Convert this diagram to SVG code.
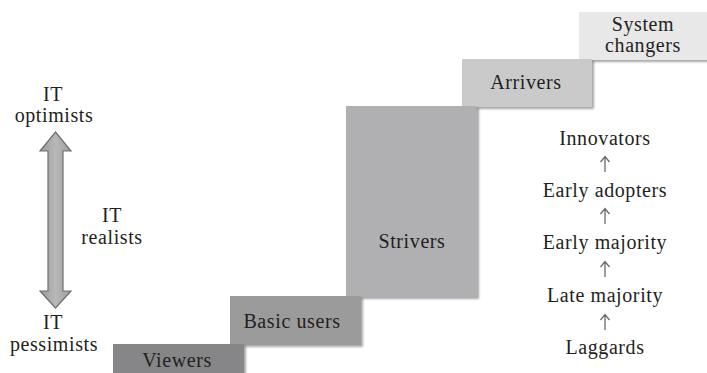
<svg xmlns="http://www.w3.org/2000/svg" width="707" height="373" viewBox="0 0 707 373">
<defs>
<style>
text{font-family:'Liberation Serif',serif !important;font-size:20px;fill:#231f20;text-anchor:middle;letter-spacing:0.6px}
.box{filter:url(#sh)}
.up{stroke:#6a6a6a;stroke-width:1.3;fill:none}
</style>
<filter id="sh" x="-5%" y="-5%" width="115%" height="115%">
<feGaussianBlur in="SourceAlpha" stdDeviation="1.2"/>
<feOffset dx="1.5" dy="1.5" result="b"/>
<feComponentTransfer><feFuncA type="linear" slope="0.35"/></feComponentTransfer>
<feMerge><feMergeNode/><feMergeNode in="SourceGraphic"/></feMerge>
</filter>
<linearGradient id="ag" x1="0" y1="0" x2="1" y2="0">
<stop offset="0" stop-color="#9a9a9a"/>
<stop offset="0.5" stop-color="#b8b8b8"/>
<stop offset="1" stop-color="#9e9e9e"/>
</linearGradient>
</defs>
<g id="system-changers"><rect class="box" x="579" y="12" width="130" height="48" fill="#e8e8e9"/><text x="643" y="31" font-family="Liberation Serif" style="font-family:'Liberation Serif'">System</text><text x="643" y="52" font-family="Liberation Serif" style="font-family:'Liberation Serif'">changers</text></g>
<g id="arrivers"><rect class="box" x="462" y="59" width="130" height="48" fill="#cacacb"/><text x="526" y="89" font-family="Liberation Serif" style="font-family:'Liberation Serif'">Arrivers</text></g>
<g id="strivers"><rect class="box" x="346" y="106" width="131" height="191" fill="#b0b0b2"/><text x="412" y="248" font-family="Liberation Serif" style="font-family:'Liberation Serif'">Strivers</text></g>
<g id="basic-users"><rect class="box" x="230" y="296" width="131" height="49" fill="#9b9b9c"/><text x="292" y="328" font-family="Liberation Serif" style="font-family:'Liberation Serif'">Basic users</text></g>
<g id="viewers"><rect class="box" x="113" y="344" width="131" height="35" fill="#868688"/><text x="177" y="367" font-family="Liberation Serif" style="font-family:'Liberation Serif'">Viewers</text></g>
<g id="it-axis">
<polygon points="55.5,132 71,151 63,151 63,291 71,291 55.5,308 40,291 48,291 48,151 40,151" fill="url(#ag)" stroke="#707070" stroke-width="1.2"/>
<text x="53" y="101" font-family="Liberation Serif" style="font-family:'Liberation Serif'">IT</text><text x="54" y="122" font-family="Liberation Serif" style="font-family:'Liberation Serif'">optimists</text>
<text x="112" y="222" font-family="Liberation Serif" style="font-family:'Liberation Serif'">IT</text><text x="112" y="244" font-family="Liberation Serif" style="font-family:'Liberation Serif'">realists</text>
<text x="53" y="329" font-family="Liberation Serif" style="font-family:'Liberation Serif'">IT</text><text x="54" y="351" font-family="Liberation Serif" style="font-family:'Liberation Serif'">pessimists</text>
</g>
<g id="adopters">
<text x="605" y="145" font-family="Liberation Serif" style="font-family:'Liberation Serif'">Innovators</text>
<text x="605" y="197" font-family="Liberation Serif" style="font-family:'Liberation Serif'">Early adopters</text>
<text x="605" y="249" font-family="Liberation Serif" style="font-family:'Liberation Serif'">Early majority</text>
<text x="605" y="302" font-family="Liberation Serif" style="font-family:'Liberation Serif'">Late majority</text>
<text x="605" y="354" font-family="Liberation Serif" style="font-family:'Liberation Serif'">Laggards</text>
</g>
<g id="connectors">
<path class="up" d="M605,172V157M600.5,162L605,156.5L609.5,162"/>
<path class="up" d="M605,224V209M600.5,214L605,208.5L609.5,214"/>
<path class="up" d="M605,277V262M600.5,267L605,261.5L609.5,267"/>
<path class="up" d="M605,330V315M600.5,320L605,314.5L609.5,320"/>
</g>
</svg>
